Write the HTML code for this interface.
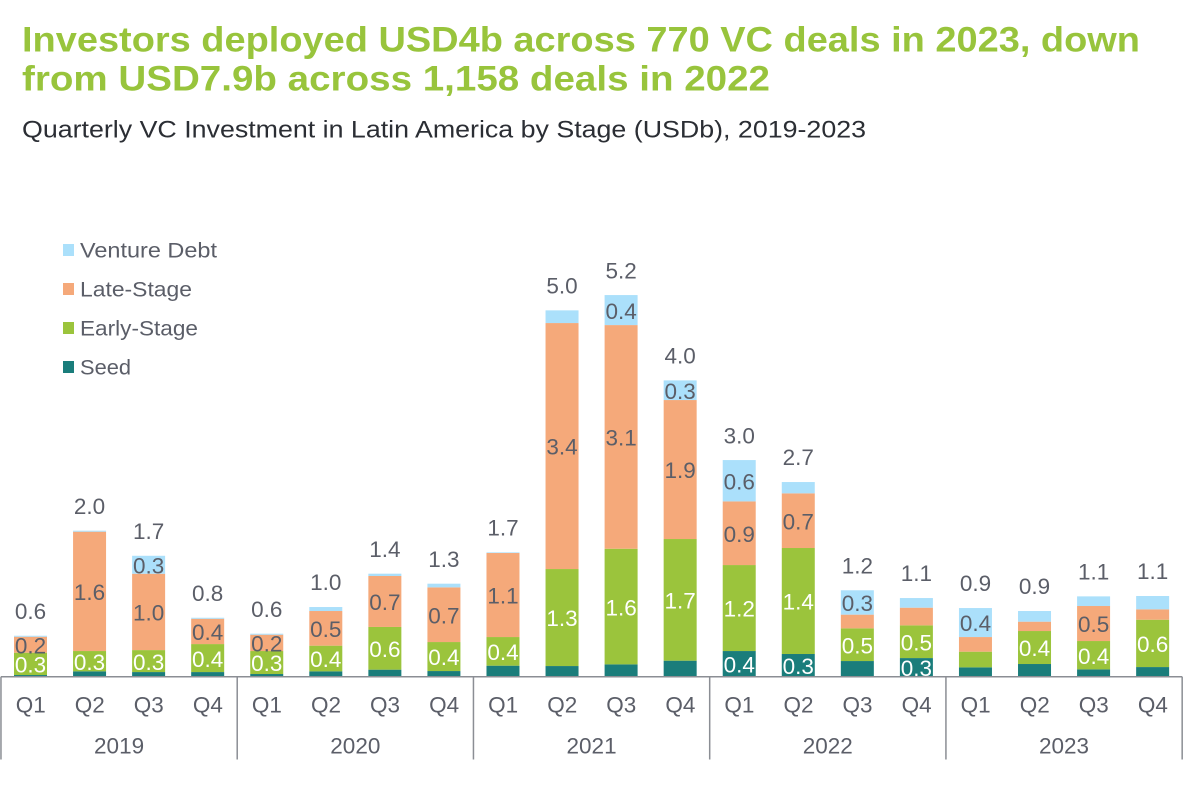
<!DOCTYPE html>
<html lang="en">
<head>
<meta charset="utf-8">
<title>Quarterly VC Investment in Latin America by Stage</title>
<style>
html,body{margin:0;padding:0;background:#fff;width:1200px;height:797px;overflow:hidden}
svg{display:block;font-family:"Liberation Sans",sans-serif}
</style>
</head>
<body>
<svg id="chart" width="1200" height="797" viewBox="0 0 1200 797" xmlns="http://www.w3.org/2000/svg">
  <rect width="1200" height="797" fill="#ffffff"/>
  <text x="22" y="51.5" font-size="35.5" font-weight="700" fill="#98c43c" textLength="1118" lengthAdjust="spacingAndGlyphs">Investors deployed USD4b across 770 VC deals in 2023, down</text>
  <text x="22" y="90.5" font-size="35.5" font-weight="700" fill="#98c43c" textLength="748" lengthAdjust="spacingAndGlyphs">from USD7.9b across 1,158 deals in 2022</text>
  <text x="22" y="137.5" font-size="24.5" fill="#2b2e34" textLength="844" lengthAdjust="spacingAndGlyphs">Quarterly VC Investment in Latin America by Stage (USDb), 2019-2023</text>

  <g>
    <g>
      <rect x="63" y="244" width="11" height="12" fill="#abe0fb"/>
      <text x="80" y="257.5" font-size="21.5" fill="#5b5e68" textLength="137" lengthAdjust="spacingAndGlyphs">Venture Debt</text>
    </g>
    <g>
      <rect x="63" y="283" width="11" height="12" fill="#f5a97a"/>
      <text x="80" y="296.5" font-size="21.5" fill="#5b5e68" textLength="112" lengthAdjust="spacingAndGlyphs">Late-Stage</text>
    </g>
    <g>
      <rect x="63" y="322" width="11" height="12" fill="#9bc43c"/>
      <text x="80" y="335.5" font-size="21.5" fill="#5b5e68" textLength="118" lengthAdjust="spacingAndGlyphs">Early-Stage</text>
    </g>
    <g>
      <rect x="63" y="361" width="11" height="12" fill="#1a7d7b"/>
      <text x="80" y="374.5" font-size="21.5" fill="#5b5e68" textLength="51" lengthAdjust="spacingAndGlyphs">Seed</text>
    </g>
  </g>
  <g id="bars"></g>
  <g id="axis"></g>
  <g id="labels"></g>
</svg>
<script>
const quarters = ["Q1","Q2","Q3","Q4","Q1","Q2","Q3","Q4","Q1","Q2","Q3","Q4","Q1","Q2","Q3","Q4","Q1","Q2","Q3","Q4"];
const years = ["2019","2020","2021","2022","2023"];
const seriesNames = ["seed","early-stage","late-stage","venture-debt"];

const seed = [0.023,0.074,0.064,0.064, 0.037,0.074,0.097,0.078, 0.152,0.147,0.170,0.221, 0.354,0.313,0.216,0.257, 0.129,0.175,0.101,0.133];
const earlyStage = [0.308,0.280,0.303,0.386, 0.317,0.354,0.589,0.400, 0.395,1.338,1.595,1.678, 1.186,1.462,0.451,0.451, 0.216,0.455,0.391,0.653];
const lateStage = [0.220,1.646,1.053,0.349, 0.225,0.478,0.703,0.754, 1.159,3.393,3.085,1.917, 0.878,0.754,0.189,0.244, 0.202,0.129,0.483,0.143];
const ventureDebt = [0.014,0.014,0.248,0.014, 0.014,0.055,0.032,0.051, 0.009,0.175,0.414,0.271, 0.570,0.156,0.336,0.133, 0.400,0.147,0.133,0.184];

const seedLabels = [null,null,null,null, null,null,null,null, null,null,null,null, "0.4","0.3",null,"0.3", null,null,null,null];
const earlyLabels = ["0.3","0.3","0.3","0.4", "0.3","0.4","0.6","0.4", "0.4","1.3","1.6","1.7", "1.2","1.4","0.5","0.5", null,"0.4","0.4","0.6"];
const lateLabels = ["0.2","1.6","1.0","0.4", "0.2","0.5","0.7","0.7", "1.1","3.4","3.1","1.9", "0.9","0.7",null,null, null,null,"0.5",null];
const debtLabels = [null,null,"0.3",null, null,null,null,null, null,null,"0.4","0.3", "0.6",null,"0.3",null, "0.4",null,null,null];
const totalLabels = ["0.6","2.0","1.7","0.8", "0.6","1.0","1.4","1.3", "1.7","5.0","5.2","4.0", "3.0","2.7","1.2","1.1", "0.9","0.9","1.1","1.1"];

const NS = "http://www.w3.org/2000/svg";
const baseY = 676.7, pxPerUnit = 72.5, firstX = 30.5, stepX = 59.06, barW = 33;
const axisX = i => firstX + i * stepX;
const axisY = v => baseY - v * pxPerUnit;
const fills = ["#1a7d7b","#9bc43c","#f5a97a","#abe0fb"];
const inkColors = ["#ffffff","#ffffff","#5b5e68","#5b5e68"];
const allSeries = [seed, earlyStage, lateStage, ventureDebt];
const allLabels = [seedLabels, earlyLabels, lateLabels, debtLabels];
const barsG = document.getElementById("bars");
const axisG = document.getElementById("axis");
const labelsG = document.getElementById("labels");

function addText(parent, str, x, y, size, color) {
  const t = document.createElementNS(NS, "text");
  t.setAttribute("x", x);
  t.setAttribute("y", y);
  t.setAttribute("font-size", size);
  t.setAttribute("fill", color);
  t.setAttribute("text-anchor", "middle");
  t.textContent = str;
  parent.appendChild(t);
  return t;
}
function addLine(x1, y1, x2, y2) {
  const l = document.createElementNS(NS, "line");
  l.setAttribute("x1", x1);
  l.setAttribute("y1", y1);
  l.setAttribute("x2", x2);
  l.setAttribute("y2", y2);
  l.setAttribute("stroke", "#8b8e94");
  l.setAttribute("stroke-width", "1.5");
  axisG.appendChild(l);
  return l;
}

quarters.forEach((q, i) => {
  let cum = 0;
  allSeries.forEach((series, s) => {
    const v = series[i];
    const y0 = axisY(cum), y1 = axisY(cum + v);
    const r = document.createElementNS(NS, "rect");
    r.setAttribute("x", axisX(i) - barW / 2);
    r.setAttribute("y", y1);
    r.setAttribute("width", barW);
    r.setAttribute("height", y0 - y1);
    r.setAttribute("fill", fills[s]);
    
    
    barsG.appendChild(r);
    const lab = allLabels[s][i];
    if (lab !== null) {
      const t = addText(labelsG, lab, axisX(i), (y0 + y1) / 2 + 8.7, 22.5, inkColors[s]);
      
      
    }
    cum += v;
  });
  const tot = addText(labelsG, totalLabels[i], axisX(i), axisY(cum) - 16.8, 22.5, "#5b5e68");
  
  
  const tick = addText(axisG, q, axisX(i) + 0.2, 712.7, 22.5, "#5b5e68");
  
  
});

const axisLine = addLine(axisX(0) - stepX / 2, baseY, axisX(quarters.length - 1) + stepX / 2, baseY);



years.forEach((yr, k) => {
  const per = quarters.length / years.length;
  const left = axisX(k * per) - stepX / 2;
  const sep = addLine(left, baseY, left, 759.5);
  
  
  const mid = (axisX(k * per) + axisX(k * per + per - 1)) / 2;
  const t = addText(axisG, yr, mid, 753.7, 22.5, "#5b5e68");
  
  
  if (k === years.length - 1) {
    const end = axisX(k * per + per - 1) + stepX / 2;
    const last = addLine(end, baseY, end, 759.5);
    
    
  }
});
</script>
</body>
</html>
